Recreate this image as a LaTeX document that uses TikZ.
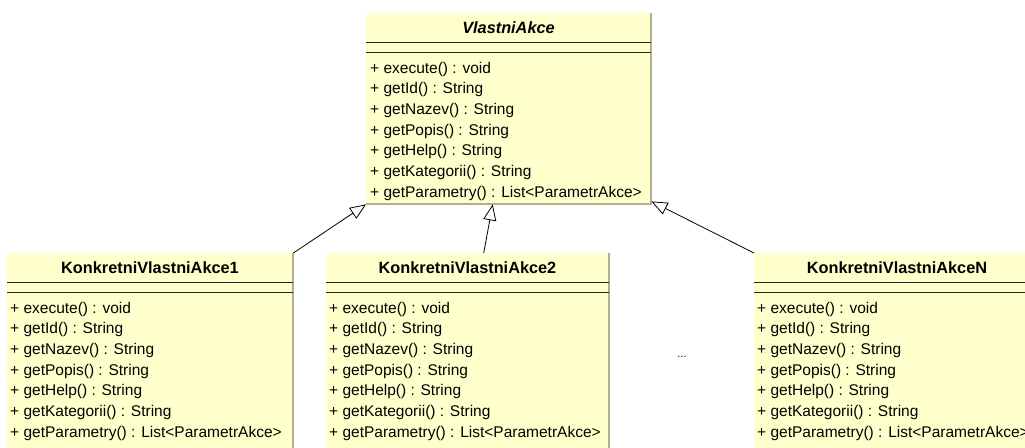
\documentclass[tikz,border=0pt]{standalone}
\usepackage{fontspec}
\setmainfont{Liberation Sans}
\usetikzlibrary{arrows.meta}

\definecolor{umlfill}{RGB}{255,255,204}
\definecolor{umlshade}{RGB}{176,176,140}

\begin{document}
\begin{tikzpicture}[x=1pt, y=-1pt,
    classbox/.style={rectangle, fill=umlfill, inner sep=0pt, anchor=north west},
    shade/.style={draw=umlshade, line width=2pt},
    sepline/.style={draw=black!85, line width=1.2pt},
    title/.style={inner sep=0pt, font=\fontsize{16.3}{18}\selectfont\bfseries},
    method/.style={inner sep=0pt, anchor=west, font=\fontsize{15.5}{18}\selectfont},
    inherit/.style={-{Triangle[open, length=16pt, width=13pt]}, line width=0.8pt}]

    \useasboundingbox (0,0) rectangle (1025,447);
    \clip (0,0) rectangle (1025,447);

    % Define the abstract class (top)
    \node[classbox, minimum width=285pt, minimum height=191pt] (VA) at (366,13) {};
    \draw[shade] (VA.north east) -- (VA.south east) -- (VA.south west);
    \node[title] (VAt) at (508.5,27.5) {\itshape VlastniAkce};
    \draw[sepline] ([yshift=-29.5pt]VA.north west) -- ([yshift=-29.5pt]VA.north east);
    \draw[sepline] ([yshift=-39.5pt]VA.north west) -- ([yshift=-39.5pt]VA.north east);
    \node[method] (VA1) at (370,69) {+ execute() : void};
    \node[method] (VA2) at (370,89.7) {+ getId() : String};
    \node[method] (VA3) at (370,110.3) {+ getNazev() : String};
    \node[method] (VA4) at (370,131) {+ getPopis() : String};
    \node[method] (VA5) at (370,151.7) {+ getHelp() : String};
    \node[method] (VA6) at (370,172.3) {+ getKategorii() : String};
    \node[method] (VA7) at (370,193) {+ getParametry() : List<ParametrAkce>};

    % Define the concrete classes (bottom row)
    \node[classbox, minimum width=286pt, minimum height=210pt] (K1) at (7,253) {};
    \draw[shade] (K1.north east) -- (K1.south east);
    \node[title] (K1t) at (150,268) {KonkretniVlastniAkce1};
    \draw[sepline] ([yshift=-29.5pt]K1.north west) -- ([yshift=-29.5pt]K1.north east);
    \draw[sepline] ([yshift=-39.5pt]K1.north west) -- ([yshift=-39.5pt]K1.north east);
    \node[method] (K11) at (10,309) {+ execute() : void};
    \node[method] (K12) at (10,329.7) {+ getId() : String};
    \node[method] (K13) at (10,350.3) {+ getNazev() : String};
    \node[method] (K14) at (10,371) {+ getPopis() : String};
    \node[method] (K15) at (10,391.7) {+ getHelp() : String};
    \node[method] (K16) at (10,412.3) {+ getKategorii() : String};
    \node[method] (K17) at (10,433) {+ getParametry() : List<ParametrAkce>};

    \node[classbox, minimum width=283pt, minimum height=210pt] (K2) at (326,253) {};
    \draw[shade] (K2.north east) -- (K2.south east);
    \node[title] (K2t) at (467.5,268) {KonkretniVlastniAkce2};
    \draw[sepline] ([yshift=-29.5pt]K2.north west) -- ([yshift=-29.5pt]K2.north east);
    \draw[sepline] ([yshift=-39.5pt]K2.north west) -- ([yshift=-39.5pt]K2.north east);
    \node[method] (K21) at (329,309) {+ execute() : void};
    \node[method] (K22) at (329,329.7) {+ getId() : String};
    \node[method] (K23) at (329,350.3) {+ getNazev() : String};
    \node[method] (K24) at (329,371) {+ getPopis() : String};
    \node[method] (K25) at (329,391.7) {+ getHelp() : String};
    \node[method] (K26) at (329,412.3) {+ getKategorii() : String};
    \node[method] (K27) at (329,433) {+ getParametry() : List<ParametrAkce>};

    \node[inner sep=0pt, font=\fontsize{11}{12}\selectfont] (dots) at (682,357) {...};

    \node[classbox, minimum width=286pt, minimum height=210pt] (KN) at (754,253) {};
    \draw[shade] (KN.north east) -- (KN.south east);
    \node[title] (KNt) at (897,268) {KonkretniVlastniAkceN};
    \draw[sepline] ([yshift=-29.5pt]KN.north west) -- ([yshift=-29.5pt]KN.north east);
    \draw[sepline] ([yshift=-39.5pt]KN.north west) -- ([yshift=-39.5pt]KN.north east);
    \node[method] (KN1) at (757,309) {+ execute() : void};
    \node[method] (KN2) at (757,329.7) {+ getId() : String};
    \node[method] (KN3) at (757,350.3) {+ getNazev() : String};
    \node[method] (KN4) at (757,371) {+ getPopis() : String};
    \node[method] (KN5) at (757,391.7) {+ getHelp() : String};
    \node[method] (KN6) at (757,412.3) {+ getKategorii() : String};
    \node[method] (KN7) at (757,433) {+ getParametry() : List<ParametrAkce>};

    % Draw the generalization arrows
    \draw[inherit] (K1.north east) -- (VA.south west);
    \draw[inherit] ([xshift=16pt]K2.north) -- ([xshift=-16pt]VA.south);
    \draw[inherit] (KN.north west) -- ([yshift=3pt]VA.south east);

\end{tikzpicture}
\end{document}
